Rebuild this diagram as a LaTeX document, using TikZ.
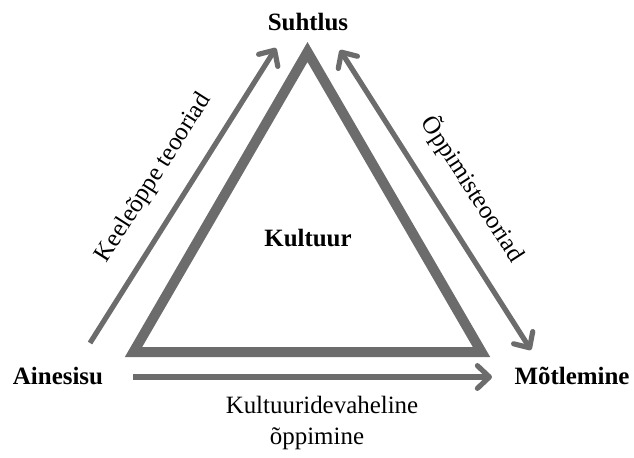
\documentclass[tikz,border=0pt]{standalone}
\usepackage{fontspec}
\setmainfont{Liberation Serif}
\usepackage{tikz}
\usepackage{xcolor}
\usetikzlibrary{arrows.meta, positioning}
\definecolor{framegray}{RGB}{108, 108, 108}

\tikzset{
  cornerlabel/.style={font=\fontsize{18.7}{22}\selectfont\bfseries, inner sep=0pt},
  sidelabel/.style={font=\fontsize{18.7}{22}\selectfont, inner sep=0pt},
  sidearrow/.style={framegray, line width=3.9pt, -{Straight Barb[length=9pt, width=17pt, round]}},
}

\begin{document}
\begin{tikzpicture}[x=0.75pt, y=-0.75pt]
            \useasboundingbox (0,0) rectangle (634,457);
            % triangle
            \draw[framegray, line width=7.5pt, miter limit=10] (133.5,352) -- (307.5,52) -- (481.5,352) -- cycle;
            % corner labels
            \node[cornerlabel] (suhtlus) at (308,22) {Suhtlus};
            \node[cornerlabel] (ainesisu) at (58,376) {Ainesisu};
            \node[cornerlabel] (motlemine) at (572,376) {Mõtlemine};
            \node[cornerlabel] (kultuur) at (308,238) {Kultuur};
            % arrows
            \coordinate (leftstart) at (90,343);
            \coordinate (lefttip) at (276,48);
            \coordinate (righttop) at (340,50);
            \coordinate (rightbottom) at (531,350);
            \coordinate (bottomstart) at (133,377);
            \coordinate (bottomtip) at (492,377);
            \draw[sidearrow] (leftstart) -- (lefttip);
            \draw[sidearrow, {Straight Barb[length=9pt, width=17pt, round]}-{Straight Barb[length=9pt, width=17pt, round]}] (righttop) -- (rightbottom);
            \draw[sidearrow] (bottomstart) -- (bottomtip);
            % side labels
            \node[sidelabel, rotate=57.5] (keel) at (154,178) {Keeleõppe teooriad};
            \node[sidelabel, rotate=-57] (oppimis) at (473,189) {Õppimisteooriad};
            \node[sidelabel] (kultuuride) at (322,405) {Kultuuridevaheline};
            \node[sidelabel] (oppimine) at (317,439) {õppimine};
        \end{tikzpicture}
\end{document}
